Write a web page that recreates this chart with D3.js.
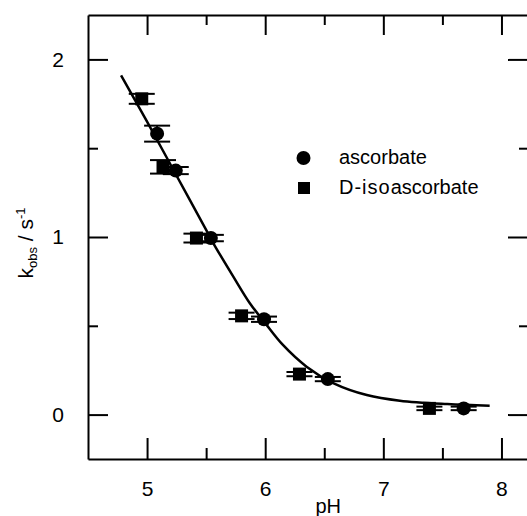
<!DOCTYPE html>
<html>
<head>
<meta charset="utf-8">
<script src="https://cdn.jsdelivr.net/npm/d3@7"></script>
<style>
  body { margin: 0; background: #fff; }
  svg { display: block; font-family: "Liberation Sans", Arial, sans-serif; }
  .axis path, .axis line { stroke: #000; stroke-width: 2; }
  .axis text { font-size: 21px; fill: #000; font-family: "Liberation Sans", Arial, sans-serif; }
</style>
</head>
<body>
<div id="chart"></div>
<script>
// ascorbate (circles)
var ascPH  = [5.085, 5.243, 5.54, 5.99, 6.53, 7.68];
var ascK   = [1.582, 1.374, 0.994, 0.537, 0.200, 0.035];
var ascErr = [0.045, 0.02, 0.018, 0.015, 0.012, 0.01];

// D-isoascorbate (squares)
var isoPH  = [4.955, 5.135, 5.418, 5.80, 6.29, 7.39];
var isoK   = [1.778, 1.395, 0.994, 0.556, 0.228, 0.035];
var isoErr = [0.028, 0.038, 0.025, 0.018, 0.012, 0.01];

// fitted curve
var fitPH = [4.78, 5.0, 5.25, 5.5, 5.56, 5.73, 5.87, 6.0, 6.15, 6.35, 6.58, 6.86, 7.14, 7.54, 7.90];
var fitK  = [1.91, 1.65, 1.345, 1.04, 0.966, 0.777, 0.627, 0.515, 0.392, 0.270, 0.176, 0.110, 0.078, 0.059, 0.050];

var xMajor = [5, 6, 7, 8];
var xMinor = [5.5, 6.5, 7.5];
var yMajor = [0, 1, 2];
var yMinor = [0.5, 1.5];

var svg_width = 527, svg_height = 516;
var left = 88, top_ = 15;
var plot_w = 443, plot_h = 444;
var cap = 26;

var x = d3.scaleLinear().domain([4.5, 8.25]).range([left, left + plot_w]);
var y = d3.scaleLinear().domain([-0.25, 2.25]).range([top_ + plot_h, top_]);

var svg = d3.select('#chart').append('svg')
  .attr('width', svg_width)
  .attr('height', svg_height);

// bottom axis + labels
svg.append('g').attr('class', 'axis')
  .attr('transform', 'translate(0,' + (top_ + plot_h) + ')')
  .call(d3.axisBottom(x).tickValues(xMajor).tickFormat(d3.format('d'))
        .tickSizeInner(-21).tickSizeOuter(0).tickPadding(22));
svg.append('g').attr('class', 'axis')
  .attr('transform', 'translate(0,' + (top_ + plot_h) + ')')
  .call(d3.axisBottom(x).tickValues(xMinor).tickFormat('')
        .tickSizeInner(-11).tickSizeOuter(0))
  .select('.domain').remove();

// top axis
svg.append('g').attr('class', 'axis')
  .attr('transform', 'translate(0,' + top_ + ')')
  .call(d3.axisTop(x).tickValues(xMajor).tickFormat('')
        .tickSizeInner(-20).tickSizeOuter(0));
svg.append('g').attr('class', 'axis')
  .attr('transform', 'translate(0,' + top_ + ')')
  .call(d3.axisTop(x).tickValues(xMinor).tickFormat('')
        .tickSizeInner(-10).tickSizeOuter(0))
  .select('.domain').remove();

// left axis + labels
svg.append('g').attr('class', 'axis')
  .attr('transform', 'translate(' + left + ',0)')
  .call(d3.axisLeft(y).tickValues(yMajor).tickFormat(d3.format('d'))
        .tickSizeInner(-20).tickSizeOuter(0).tickPadding(24));
svg.append('g').attr('class', 'axis')
  .attr('transform', 'translate(' + left + ',0)')
  .call(d3.axisLeft(y).tickValues(yMinor).tickFormat('')
        .tickSizeInner(-10).tickSizeOuter(0))
  .select('.domain').remove();

// right axis
svg.append('g').attr('class', 'axis')
  .attr('transform', 'translate(' + (left + plot_w) + ',0)')
  .call(d3.axisRight(y).tickValues(yMajor).tickFormat('')
        .tickSizeInner(-23).tickSizeOuter(0));
svg.append('g').attr('class', 'axis')
  .attr('transform', 'translate(' + (left + plot_w) + ',0)')
  .call(d3.axisRight(y).tickValues(yMinor).tickFormat('')
        .tickSizeInner(-12).tickSizeOuter(0))
  .select('.domain').remove();

// fit curve
var fit = fitPH.map(function(d, i) { return [d, fitK[i]]; });
svg.append('path')
  .datum(fit)
  .attr('fill', 'none')
  .attr('stroke', '#000')
  .attr('stroke-width', 2.5)
  .attr('d', d3.line()
    .x(function(d) { return x(d[0]); })
    .y(function(d) { return y(d[1]); })
    .curve(d3.curveCatmullRom.alpha(0.5)));

function errorBars(ph, k, err) {
  var g = svg.append('g').attr('stroke', '#000').attr('stroke-width', 2);
  var data = ph.map(function(d, i) { return {ph: d, k: k[i], e: err[i]}; });
  g.selectAll('line.v').data(data).enter().append('line')
    .attr('x1', function(d) { return x(d.ph); })
    .attr('x2', function(d) { return x(d.ph); })
    .attr('y1', function(d) { return y(d.k - d.e); })
    .attr('y2', function(d) { return y(d.k + d.e); });
  [-1, 1].forEach(function(s) {
    g.selectAll('line.c' + s).data(data).enter().append('line')
      .attr('x1', function(d) { return x(d.ph) - cap / 2; })
      .attr('x2', function(d) { return x(d.ph) + cap / 2; })
      .attr('y1', function(d) { return y(d.k + s * d.e); })
      .attr('y2', function(d) { return y(d.k + s * d.e); });
  });
  return data;
}

var isoData = errorBars(isoPH, isoK, isoErr);
var ascData = errorBars(ascPH, ascK, ascErr);

svg.append('g').selectAll('rect').data(isoData).enter().append('rect')
  .attr('x', function(d) { return x(d.ph) - 6.5; })
  .attr('y', function(d) { return y(d.k) - 6.5; })
  .attr('width', 13).attr('height', 13)
  .attr('fill', '#000');

svg.append('g').selectAll('circle').data(ascData).enter().append('circle')
  .attr('cx', function(d) { return x(d.ph); })
  .attr('cy', function(d) { return y(d.k); })
  .attr('r', 7)
  .attr('fill', '#000');

// legend
svg.append('circle').attr('cx', 303.5).attr('cy', 158).attr('r', 7).attr('fill', '#000');
svg.append('rect').attr('x', 298).attr('y', 182).attr('width', 12).attr('height', 12).attr('fill', '#000');
svg.append('text').attr('x', 339).attr('y', 164).attr('font-size', 20).text('ascorbate');
var t2 = svg.append('text').attr('x', 339).attr('y', 193.5).attr('font-size', 20);
t2.append('tspan').attr('letter-spacing', 1).text('D-iso');
t2.append('tspan').text('ascorbate');

// axis titles
svg.append('text')
  .attr('x', x(6.5) + 4)
  .attr('y', 513)
  .attr('text-anchor', 'middle')
  .attr('font-size', 20)
  .text('pH');

var yl = svg.append('text')
  .attr('transform', 'translate(33,243) rotate(-90)')
  .attr('text-anchor', 'middle')
  .attr('font-size', 21);
yl.append('tspan').text('k');
yl.append('tspan').attr('font-size', 13).attr('dy', 4).text('obs');
yl.append('tspan').attr('dy', -4).text(' / s');
yl.append('tspan').attr('font-size', 13).attr('dy', -8).text('-1');
</script>
</body>
</html>
